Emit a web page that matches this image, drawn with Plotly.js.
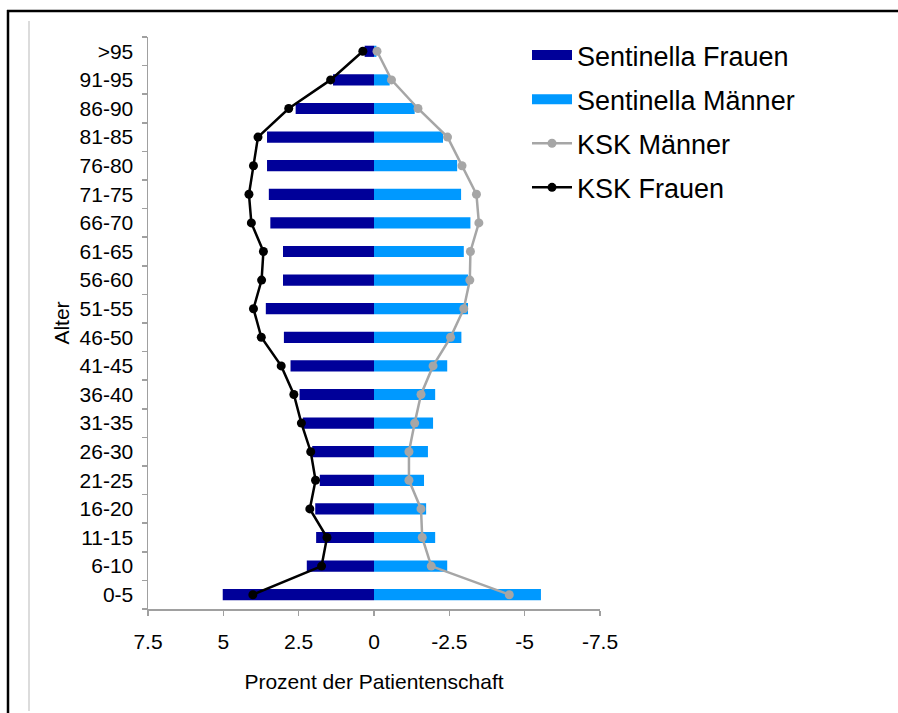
<!DOCTYPE html>
<html>
<head>
<meta charset="utf-8">
<script src="https://cdn.plot.ly/plotly-3.0.1.min.js"></script>
<style>
html,body{margin:0;padding:0;background:#fff;}
#chart{width:898px;height:713px;}
</style>
</head>
<body>
<div id="chart"></div>
<script>
// Age groups (bottom to top)
const ageGroups = ['0-5','6-10','11-15','16-20','21-25','26-30','31-35','36-40','41-45','46-50',
                   '51-55','56-60','61-65','66-70','71-75','76-80','81-85','86-90','91-95','>95'];
// Sentinella Frauen (positive = left side)
const sentinellaFrauen = [5.02,2.23,1.92,1.95,1.80,2.05,2.36,2.47,2.77,2.99,
                          3.59,3.02,3.02,3.44,3.49,3.55,3.55,2.60,1.36,0.31];
// Sentinella Männer (negative = right side)
const sentinellaMaenner = [-5.54,-2.43,-2.03,-1.73,-1.66,-1.79,-1.96,-2.03,-2.43,-2.90,
                           -3.12,-3.12,-2.98,-3.20,-2.89,-2.76,-2.29,-1.35,-0.52,-0.08];
// KSK Männer
const kskMaenner = [-4.49,-1.90,-1.60,-1.56,-1.16,-1.16,-1.35,-1.56,-1.96,-2.54,
                    -2.98,-3.18,-3.20,-3.48,-3.40,-2.92,-2.44,-1.46,-0.58,-0.10];
// KSK Frauen
const kskFrauen = [4.02,1.74,1.56,2.13,1.94,2.10,2.41,2.66,3.08,3.74,
                   4.00,3.73,3.67,4.07,4.15,4.00,3.85,2.83,1.44,0.37];
// X tick values and labels
const xTickVals = [7.5,5,2.5,0,-2.5,-5,-7.5];
const xTickText = ['7.5','5','2.5','0','-2.5','-5','-7.5'];

const colFrauen = '#000099';
const colMaenner = '#0099FF';
const colKskM = '#A6A6A6';
const colKskF = '#000000';
const FONT = 'Liberation Sans, Arial, sans-serif';

const traces = [
  {type:'bar', orientation:'h', name:'Sentinella Frauen', y:ageGroups, x:sentinellaFrauen,
   marker:{color:colFrauen}, showlegend:false, hoverinfo:'x+y'},
  {type:'bar', orientation:'h', name:'Sentinella Männer', y:ageGroups, x:sentinellaMaenner,
   marker:{color:colMaenner}, showlegend:false, hoverinfo:'x+y'},
  // legend-only entries drawn as thick line swatches
  {type:'scatter', mode:'lines', name:'Sentinella Frauen', x:[null], y:[null],
   line:{color:colFrauen, width:13}, legendgroup:'a', hoverinfo:'skip'},
  {type:'scatter', mode:'lines', name:'Sentinella Männer', x:[null], y:[null],
   line:{color:colMaenner, width:13}, legendgroup:'b', hoverinfo:'skip'},
  {type:'scatter', mode:'lines+markers', name:'KSK Männer', y:ageGroups, x:kskMaenner,
   line:{color:colKskM, width:2.5}, marker:{color:colKskM, size:9}, legendgroup:'c'},
  {type:'scatter', mode:'lines+markers', name:'KSK Frauen', y:ageGroups, x:kskFrauen,
   line:{color:colKskF, width:2.5}, marker:{color:colKskF, size:9}, legendgroup:'d'}
];

const W = 898, H = 713;
const mL = 148, mR = 298, mT = 37, mB = 104;
const pw = W - mL - mR, ph = H - mT - mB;
const px2x = p => (p - mL) / pw;
const py2y = p => (H - mB - p) / ph;

const layout = {
  width: W, height: H,
  margin: {l:mL, r:mR, t:mT, b:mB, pad:0},
  paper_bgcolor:'#ffffff', plot_bgcolor:'#ffffff',
  font:{family:FONT, size:21, color:'#000'},
  barmode:'relative',
  bargap:0.61,
  showlegend:true,
  legend:{x:px2x(527), y:py2y(31), xanchor:'left', yanchor:'top',
          font:{family:FONT, size:27, color:'#000'}, itemwidth:40,
          tracegroupgap:6, bgcolor:'rgba(0,0,0,0)', traceorder:'grouped'},
  xaxis:{
    range:[7.5,-7.5], tickmode:'array', tickvals:xTickVals, ticktext:xTickText,
    showgrid:false, zeroline:false, showline:true, linecolor:'#A0A0A0', linewidth:1.5,
    ticks:'outside', ticklen:5, tickcolor:'#A0A0A0', tickwidth:1.5,
    tickfont:{family:FONT, size:21, color:'#000'}, ticklabelstandoff:8,
    title:{text:'Prozent der Patientenschaft', font:{family:FONT, size:21, color:'#000'}, standoff:22}
  },
  yaxis:{
    type:'category', categoryorder:'array', categoryarray:ageGroups,
    range:[-0.5, ageGroups.length - 0.5], autorange:false,
    showgrid:false, zeroline:false, showline:true, linecolor:'#A0A0A0', linewidth:1.5,
    ticks:'outside', ticklen:5, tickcolor:'#A0A0A0', tickwidth:1.5, tickson:'boundaries',
    tickfont:{family:FONT, size:21, color:'#000'}, ticklabelstandoff:9,
    title:{text:'Alter', font:{family:FONT, size:21, color:'#000'}, standoff:4}
  },
  shapes:[
    {type:'line', xref:'paper', yref:'paper', x0:px2x(8), x1:px2x(8), y0:py2y(10), y1:py2y(713), line:{color:'#000', width:2.5}},
    {type:'line', xref:'paper', yref:'paper', x0:px2x(7), x1:px2x(898), y0:py2y(11), y1:py2y(11), line:{color:'#000', width:2.5}},
    {type:'line', xref:'paper', yref:'paper', x0:px2x(29), x1:px2x(29), y0:py2y(21), y1:py2y(711), line:{color:'#D0D0D0', width:1.5}}
  ]
};

Plotly.newPlot('chart', traces, layout, {displayModeBar:false, staticPlot:true});
</script>
</body>
</html>
